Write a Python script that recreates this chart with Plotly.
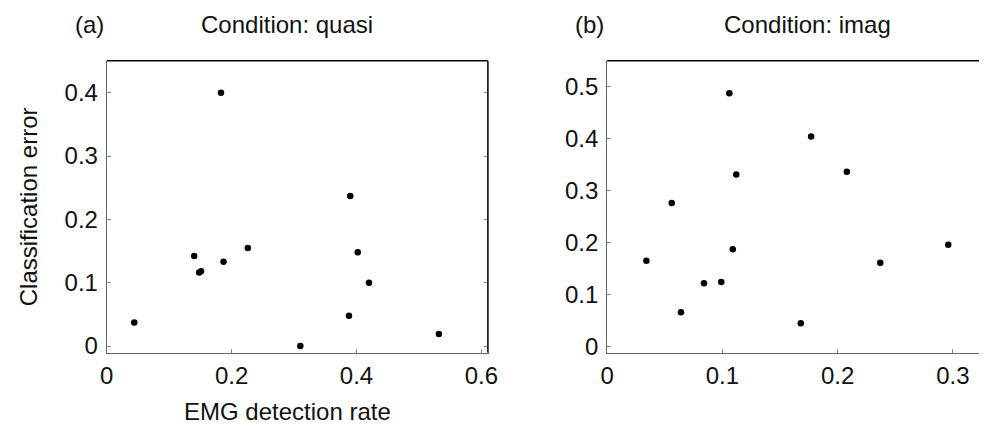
import plotly.graph_objects as go

# Panel (a): Condition quasi
quasi_rate = [0.044, 0.183, 0.140, 0.148, 0.151, 0.187, 0.226, 0.310, 0.390, 0.402, 0.420, 0.388, 0.532]
quasi_err = [0.037, 0.400, 0.142, 0.116, 0.118, 0.133, 0.155, 0.000, 0.237, 0.148, 0.100, 0.048, 0.019]

# Panel (b): Condition imag
imag_rate = [0.034, 0.056, 0.064, 0.084, 0.099, 0.106, 0.112, 0.109, 0.168, 0.177, 0.208, 0.237, 0.296]
imag_err = [0.165, 0.276, 0.066, 0.122, 0.124, 0.487, 0.331, 0.187, 0.045, 0.404, 0.336, 0.161, 0.196]

xticks_a = [0, 0.2, 0.4, 0.6]
xticklabels_a = ["0", "0.2", "0.4", "0.6"]
yticks_a = [0, 0.1, 0.2, 0.3, 0.4]
yticklabels_a = ["0", "0.1", "0.2", "0.3", "0.4"]
xticks_b = [0, 0.1, 0.2, 0.3]
xticklabels_b = ["0", "0.1", "0.2", "0.3"]
yticks_b = [0, 0.1, 0.2, 0.3, 0.4, 0.5]
yticklabels_b = ["0", "0.1", "0.2", "0.3", "0.4", "0.5"]

W, H = 989, 436
FONT = "Liberation Sans, Arial, sans-serif"
FS = 24

def px(x):
    return x / W

def py(y):
    return 1 - y / H

fig = go.Figure()
fig.add_trace(go.Scatter(x=quasi_rate, y=quasi_err, mode="markers",
                         marker=dict(color="black", size=6.5), xaxis="x", yaxis="y",
                         showlegend=False))
fig.add_trace(go.Scatter(x=imag_rate, y=imag_err, mode="markers",
                         marker=dict(color="black", size=6.5), xaxis="x2", yaxis="y2",
                         showlegend=False))

ydom = [py(358.3), py(61.7)]
axis_common = dict(showgrid=False, zeroline=False, showline=True, linecolor="#666666",
                   linewidth=1, ticks="inside", ticklen=4, tickcolor="#888888",
                   tickwidth=1, tickfont=dict(family=FONT, size=FS, color="#111111"))

fig.update_layout(
    width=W, height=H, margin=dict(l=0, r=0, t=0, b=0),
    paper_bgcolor="white", plot_bgcolor="white",
    xaxis=dict(domain=[px(101.5), px(489)], range=[0, 0.61], anchor="y",
               tickvals=xticks_a, ticktext=xticklabels_a, ticklabelstandoff=2, **axis_common),
    yaxis=dict(domain=ydom, range=[-0.0103, 0.4506], anchor="x",
               tickvals=yticks_a, ticktext=yticklabels_a, mirror="ticks",
               ticklabelstandoff=3, **axis_common),
    xaxis2=dict(domain=[px(610.7), 1], range=[0, 0.3227], anchor="y2",
                tickvals=xticks_b, ticktext=xticklabels_b, ticklabelstandoff=2, **axis_common),
    yaxis2=dict(domain=ydom, range=[-0.0114, 0.5496], anchor="x2",
                tickvals=yticks_b, ticktext=yticklabels_b, ticklabelstandoff=3, **axis_common),
)

# dark top / right frame lines
fig.add_shape(type="line", xref="x domain", yref="y domain", x0=0, x1=1, y0=1, y1=1,
              line=dict(color="black", width=1.5))
fig.add_shape(type="line", xref="x domain", yref="y domain", x0=1, x1=1, y0=0, y1=1,
              line=dict(color="#222222", width=1.2))
fig.add_shape(type="line", xref="x2 domain", yref="y2 domain", x0=0, x1=1, y0=1, y1=1,
              line=dict(color="black", width=1.5))

def ann(text, x, y, angle=0):
    fig.add_annotation(text=text, x=px(x), y=py(y), xref="paper", yref="paper",
                       xanchor="center", yanchor="middle", showarrow=False, textangle=angle,
                       font=dict(family=FONT, size=FS, color="#111111"))

ann("(a)", 84, 25)
ann("Condition: quasi", 285, 25)
ann("(b)", 593, 25)
ann("Condition: imag", 814, 25)
ann("Classification error", 22, 210, angle=-90)
ann("EMG detection rate", 285, 418)

fig.write_html("out.html")
